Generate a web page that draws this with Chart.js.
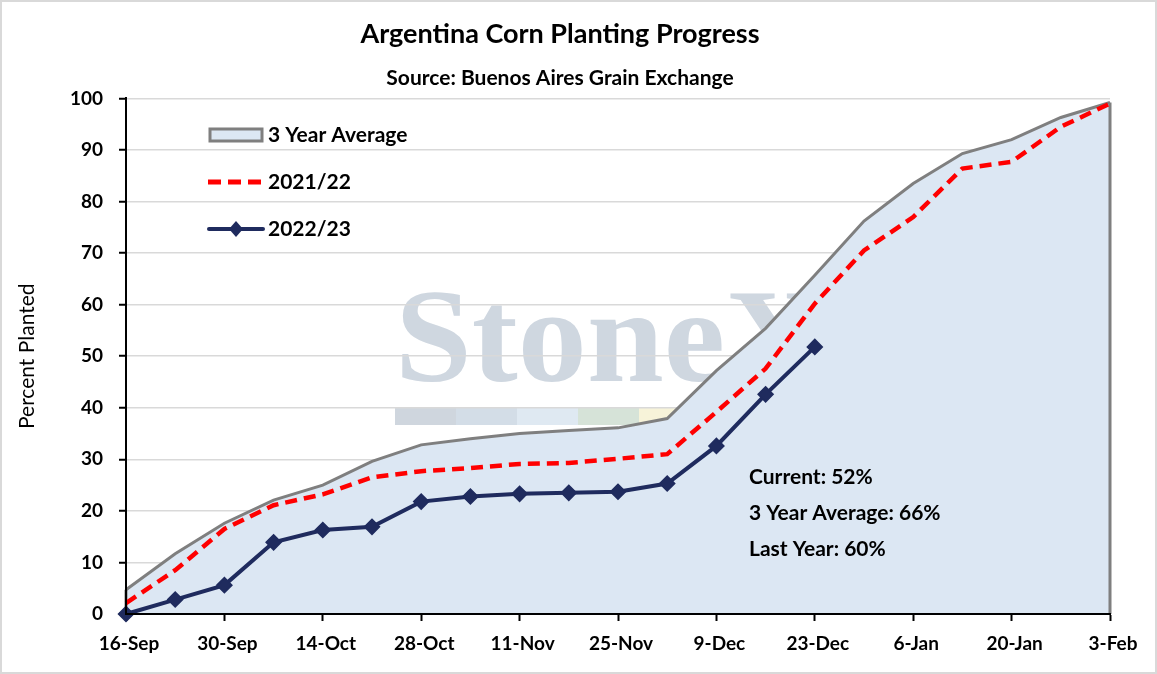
<!DOCTYPE html>
<html><head><meta charset="utf-8">
<script src="https://cdn.jsdelivr.net/npm/chart.js@4"></script>
<style>html,body{margin:0;padding:0;background:#fff;overflow:hidden}canvas{display:block}</style>
</head><body>
<canvas id="c" width="1157" height="674"></canvas>
<script>
// ---- data ----
const weeks = ['16-Sep','23-Sep','30-Sep','7-Oct','14-Oct','21-Oct','28-Oct','4-Nov','11-Nov','18-Nov','25-Nov','2-Dec','9-Dec','16-Dec','23-Dec','30-Dec','6-Jan','13-Jan','20-Jan','27-Jan','3-Feb'];
const avg3yr = [4.7,11.7,17.6,22.1,25.0,29.6,32.8,34.0,35.0,35.6,36.1,37.9,47.2,55.4,65.7,76.2,83.5,89.3,92.0,96.3,99.2];
const season2021 = [2.1,8.5,16.5,21.1,23.2,26.5,27.7,28.3,29.1,29.3,30.1,31.0,39.2,47.6,60.2,70.5,77.0,86.4,87.7,94.5,99.0];
const season2022 = [0,2.8,5.6,13.9,16.3,16.9,21.8,22.8,23.3,23.5,23.7,25.3,32.6,42.6,51.8];
const seriesNames = ['3 Year Average','2021/22','2022/23'];
const noteLabels = ['Current','3 Year Average','Last Year'];
const yMin = 0, yMax = 100, yStep = 10;

const FONT = 'Lato';
const NAVY = '#1f2b5e', RED = '#ff0000', GREY = '#7f7f7f', FILL = '#dce7f3';

const lastIdx = season2022.length - 1;
const noteValues = [season2022[lastIdx], avg3yr[lastIdx], season2021[lastIdx]];

const bgPlugin = {
  id: 'bg',
  beforeDraw(chart) {
    const ctx = chart.ctx;
    ctx.save();
    ctx.fillStyle = '#fff';
    ctx.fillRect(0, 0, chart.width, chart.height);
    // watermark
    ctx.font = 'bold 133px "Liberation Serif"';
    const w = ctx.measureText('Stone').width;
    ctx.save();
    ctx.translate(395, 381);
    ctx.scale(330 / w, 1);
    ctx.fillStyle = '#cfd7e0';
    ctx.textBaseline = 'alphabetic';
    ctx.fillText('StoneX', 0, 0);
    ctx.restore();
    const cols = ['#cfd6de', '#d3dde7', '#dfe9f2', '#d6e3d8', '#f7f3d9'];
    cols.forEach((c, i) => { ctx.fillStyle = c; ctx.fillRect(395 + i * 61, 408, 61, 17); });
    ctx.restore();
  },
  afterDatasetDraw(chart, args) {
    if (args.index !== 0) return;
    const meta = chart.getDatasetMeta(0);
    const y0 = chart.scales.y.getPixelForValue(0);
    const a = meta.data[0], b = meta.data[meta.data.length - 1];
    const ctx = chart.ctx;
    ctx.save();
    ctx.strokeStyle = GREY; ctx.lineWidth = 3;
    ctx.beginPath();
    ctx.moveTo(a.x, y0); ctx.lineTo(a.x, a.y);
    ctx.moveTo(b.x, y0); ctx.lineTo(b.x, b.y);
    ctx.stroke();
    ctx.restore();
  },
  afterDraw(chart) {
    const ctx = chart.ctx;
    ctx.save();
    // legend
    ctx.fillStyle = FILL; ctx.strokeStyle = GREY; ctx.lineWidth = 3;
    ctx.fillRect(210, 129, 52, 12); ctx.strokeRect(210, 129, 52, 12);
    ctx.strokeStyle = RED; ctx.lineWidth = 5; ctx.setLineDash([13, 7]);
    ctx.beginPath(); ctx.moveTo(208, 182); ctx.lineTo(263, 182); ctx.stroke();
    ctx.setLineDash([]);
    ctx.strokeStyle = NAVY; ctx.lineWidth = 4; ctx.lineCap = 'round';
    ctx.beginPath(); ctx.moveTo(209, 229); ctx.lineTo(263, 229); ctx.stroke();
    ctx.fillStyle = NAVY;
    ctx.beginPath(); ctx.moveTo(236, 221); ctx.lineTo(243, 229); ctx.lineTo(236, 237); ctx.lineTo(229, 229); ctx.closePath(); ctx.fill();
    ctx.fillStyle = '#000';
    ctx.font = 'bold 21px ' + FONT;
    ctx.textBaseline = 'middle'; ctx.textAlign = 'left';
    [135, 182, 229].forEach((y, i) => ctx.fillText(seriesNames[i], 268, y));
    // notes
    [477, 513, 549].forEach((y, i) => ctx.fillText(noteLabels[i] + ': ' + Math.round(noteValues[i]) + '%', 749, y));
    // outer frame
    ctx.strokeStyle = '#d9d9d9'; ctx.lineWidth = 2;
    ctx.strokeRect(1, 1, chart.width - 2, chart.height - 2);
    ctx.restore();
  }
};

new Chart(document.getElementById('c'), {
  type: 'line',
  data: {
    labels: weeks,
    datasets: [
      { label: seriesNames[0], data: avg3yr, fill: 'origin', backgroundColor: FILL, borderColor: GREY,
        borderWidth: 3, pointRadius: 0, tension: 0, order: 3, clip: false },
      { label: seriesNames[1], data: season2021, fill: false, borderColor: RED, borderWidth: 4.5,
        borderDash: [12, 7], pointRadius: 0, tension: 0, order: 2, clip: false },
      { label: seriesNames[2], data: season2022, fill: false, borderColor: NAVY, backgroundColor: NAVY,
        borderWidth: 4, pointStyle: 'rectRot', pointRadius: 7.5, pointBorderWidth: 1.5,
        pointBackgroundColor: NAVY, pointBorderColor: NAVY, tension: 0, order: 1, clip: false }
    ]
  },
  options: {
    responsive: false, animation: false, devicePixelRatio: 1,
    layout: { padding: { left: 10, right: 47, top: 0, bottom: 0 } },
    plugins: {
      legend: { display: false }, tooltip: { enabled: false },
      title: { display: true, text: 'Argentina Corn Planting Progress', color: '#000',
        font: { family: FONT, size: 27, weight: 'bold' }, padding: { top: 17.8, bottom: 7.6 } },
      subtitle: { display: true, text: 'Source: Buenos Aires Grain Exchange', color: '#000',
        font: { family: FONT, size: 21, weight: 'bold' }, padding: { top: 7.6, bottom: 7.8 } }
    },
    scales: {
      x: {
        offset: false,
        grid: { drawOnChartArea: false, drawTicks: true, tickLength: 7,
          tickColor: (c) => (c.index % 2 === 0 ? '#000' : 'rgba(0,0,0,0)'), tickWidth: 2 },
        border: { color: '#000', width: 2, z: 1 },
        ticks: { autoSkip: false, maxRotation: 0, minRotation: 0, padding: 11, labelOffset: 3, color: '#000',
          font: { family: FONT, size: 19, weight: 'bold' },
          callback: function (v, i) { return i % 2 === 0 ? weeks[i] : ''; } },
        afterFit: (s) => { s.height = 60; }
      },
      y: {
        min: yMin, max: yMax,
        grid: { color: '#d9d9d9', lineWidth: 1.5, tickLength: 7, tickColor: '#000', tickWidth: 2 },
        border: { color: '#000', width: 2, z: 1 },
        ticks: { stepSize: yStep, padding: 16, color: '#000', font: { family: FONT, size: 19, weight: 'bold' } },
        title: { display: true, text: 'Percent Planted', color: '#000', padding: { top: 4.5, bottom: 0 },
          font: { family: FONT, size: 21, weight: 'normal' } },
        afterFit: (s) => { s.width = 116; }
      }
    }
  },
  plugins: [bgPlugin]
});
</script>
</body></html>
